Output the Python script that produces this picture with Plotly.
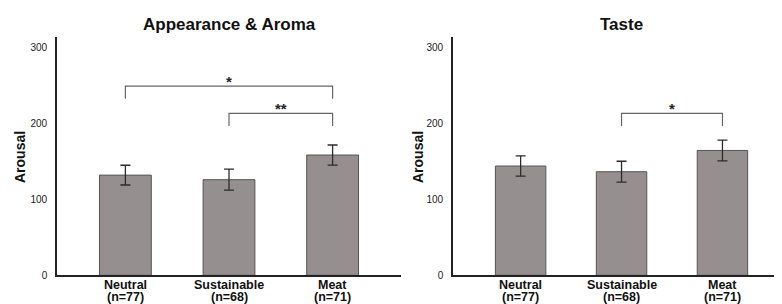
import plotly.graph_objects as go

categories = ["Neutral", "Sustainable", "Meat"]
n_labels = ["(n=77)", "(n=68)", "(n=71)"]
panel_titles = ["Appearance & Aroma", "Taste"]
y_title = "Arousal"

aroma_mean = [132, 126, 158.5]
aroma_err = [13, 13.8, 13.2]
taste_mean = [144, 136.5, 164.5]
taste_err = [13.3, 13.8, 13.6]

y_ticks = [0, 100, 200, 300]

# significance brackets: (from-index, to-index, height, label)
aroma_brackets = [(0, 2, 249.4, "*"), (1, 2, 213.4, "**")]
taste_brackets = [(1, 2, 213.4, "*")]

BAR_COLOR = "#968f8f"
FONT = "Liberation Sans, Arial, sans-serif"

# the page body has an 8px margin; lay the figure out in window pixels
OFF = 8
W, H = 782 - OFF, 304 - OFF


def px2x(px):
    return (px - OFF) / W


def py2y(py):
    return 1 - (py - OFF) / H


fig = go.Figure()

panels = [
    dict(mean=aroma_mean, err=aroma_err, br=aroma_brackets, xa="x", ya="y",
         dom=[px2x(57), px2x(401)], rng=[-0.66, 2.66], tx=20),
    dict(mean=taste_mean, err=taste_err, br=taste_brackets, xa="x2", ya="y2",
         dom=[px2x(453), 1.0], rng=[-0.67, 2.59], tx=418),
]

ydom = [py2y(275.3), py2y(37)]
yrng = [0, 314]
leg = 16.7

for i, p in enumerate(panels):
    fig.add_trace(go.Bar(
        x=list(range(len(categories))), y=p["mean"],
        xaxis=p["xa"], yaxis=p["ya"], width=0.5,
        marker=dict(color=BAR_COLOR, line=dict(color="#555555", width=1)),
        error_y=dict(type="data", array=p["err"], visible=True,
                     color="#2b2b2b", thickness=1.3, width=5),
        showlegend=False, hoverinfo="skip",
    ))
    sfx = "" if i == 0 else str(i + 1)
    fig.layout["xaxis" + sfx] = dict(
        domain=p["dom"], range=p["rng"], anchor="y" + sfx,
        tickmode="array", tickvals=list(range(len(categories))),
        showticklabels=False, ticks="", showgrid=False, zeroline=False,
        showline=True, linecolor="#222222", linewidth=2,
        automargin=False, fixedrange=True,
    )
    fig.layout["yaxis" + sfx] = dict(
        domain=ydom, range=yrng, anchor="x" + sfx,
        tickmode="array", tickvals=y_ticks,
        ticks="outside", ticklen=6, tickcolor="rgba(0,0,0,0)",
        showgrid=False, zeroline=False, showline=True,
        linecolor="#222222", linewidth=1.6,
        tickfont=dict(family=FONT, size=10, color="#222222"),
        automargin=False, fixedrange=True,
    )
    xr = p["xa"]
    yr = p["ya"]
    for (a, b, h, lab) in p["br"]:
        fig.add_shape(type="path",
                      path=f"M {a} {h - leg} L {a} {h} L {b} {h} L {b} {h - leg}",
                      xref=xr, yref=yr, line=dict(color="#666666", width=1.2))
        fig.add_annotation(x=(a + b) / 2, y=h, xref=xr, yref=yr,
                           text="<b>" + lab + "</b>",
                           showarrow=False, yanchor="bottom", yshift=-6,
                           font=dict(family=FONT, size=15, color="#222222"))
    for k, (cat, nl) in enumerate(zip(categories, n_labels)):
        fig.add_annotation(x=k, y=py2y(285), xref=xr, yref="paper",
                           text="<b>" + cat + "</b>", showarrow=False,
                           yanchor="middle", borderpad=0,
                           font=dict(family=FONT, size=12.5, color="#111111"))
        fig.add_annotation(x=k, y=py2y(297), xref=xr, yref="paper",
                           text="<b>" + nl + "</b>", showarrow=False,
                           yanchor="middle", borderpad=0,
                           font=dict(family=FONT, size=12.5, color="#111111"))
    # y-axis title
    fig.add_annotation(x=px2x(p["tx"]), y=py2y(157), xref="paper",
                       yref="paper", text="<b>" + y_title + "</b>",
                       textangle=-90, showarrow=False,
                       xanchor="center", yanchor="middle",
                       font=dict(family=FONT, size=14, color="#111111"))
    # panel title
    fig.add_annotation(x=1, y=py2y(24), xref=xr, yref="paper",
                       text="<b>" + panel_titles[i] + "</b>", showarrow=False,
                       yanchor="middle",
                       font=dict(family=FONT, size=17, color="#111111"))

fig.update_layout(
    width=W, height=H,
    margin=dict(l=0, r=0, t=0, b=0),
    paper_bgcolor="white", plot_bgcolor="white",
    font=dict(family=FONT),
)

fig.write_html("out.html")
